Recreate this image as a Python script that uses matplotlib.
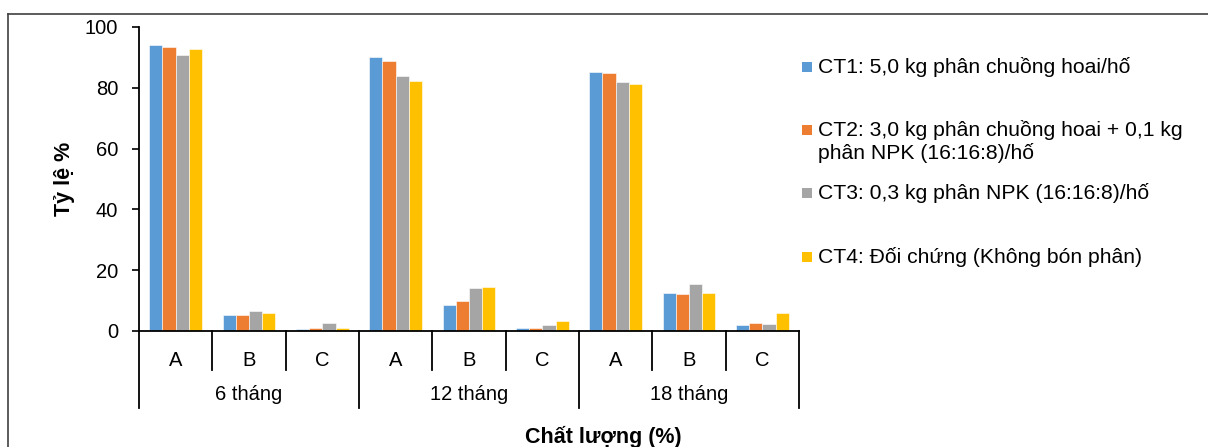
import matplotlib
matplotlib.use("Agg")
import matplotlib.pyplot as plt
from matplotlib.lines import Line2D
from matplotlib.patches import Rectangle
import matplotlib.transforms as mtransforms
import numpy as np

plt.rcParams['font.family'] = ['Liberation Sans', 'DejaVu Sans']

# ---------------- data ----------------
periods = ["6 tháng", "12 tháng", "18 tháng"]
grades = ["A", "B", "C"]
series_names = [
    "CT1: 5,0 kg phân chuồng hoai/hố",
    "CT2: 3,0 kg phân chuồng hoai + 0,1 kg\nphân NPK (16:16:8)/hố",
    "CT3: 0,3 kg phân NPK (16:16:8)/hố",
    "CT4: Đối chứng (Không bón phân)",
]
ct1 = [94.1, 5.3, 0.6, 90.0, 8.6, 1.1, 85.3, 12.5, 2.0]
ct2 = [93.4, 5.3, 1.1, 88.9, 9.9, 1.1, 84.8, 12.2, 2.7]
ct3 = [90.9, 6.6, 2.6, 83.8, 14.3, 2.0, 82.0, 15.5, 2.4]
ct4 = [92.7, 5.9, 1.1, 82.1, 14.6, 3.3, 81.4, 12.5, 5.9]
y_ticks = [0, 20, 40, 60, 80, 100]
y_label = "Tỷ lệ %"
x_label = "Chất lượng (%)"

colors = ["#5B9BD5", "#ED7D31", "#A5A5A5", "#FFC000"]

W, H = 1208, 447
fig = plt.figure(figsize=(W / 100, H / 100), dpi=100)
ax = fig.add_axes([139 / W, 1 - 331 / H, (799 - 139) / W, (331 - 27) / H])

all_series = [ct1, ct2, ct3, ct4]
n_cat = len(periods) * len(grades)
x = np.arange(n_cat)
bw = 0.18
for i, vals in enumerate(all_series):
    ax.bar(x + (i - 1.5) * bw, vals, width=bw, color=colors[i],
           edgecolor="white", linewidth=0.4, zorder=2)

ax.set_xlim(-0.5, n_cat - 0.5)
ax.set_ylim(0, 100)
ax.set_yticks(y_ticks)
ax.tick_params(axis="y", direction="out", length=5, width=1.2, pad=10,
               labelsize=14.5)
ax.set_xticks([])
for s in ["top", "right"]:
    ax.spines[s].set_visible(False)
ax.spines["left"].set_linewidth(1.3)
ax.spines["bottom"].set_linewidth(1.3)
ax.spines["bottom"].set_zorder(3)

ax.set_ylabel(y_label, fontsize=15.5, fontweight="bold")
ax.yaxis.set_label_coords(-0.097, 0.5)

# multi-level category axis
trans = mtransforms.blended_transform_factory(ax.transData, ax.transAxes)
px = 1 / (331 - 27)
inner_bottom = -(370 - 331) * px
outer_bottom = -(408 - 331) * px
lab_inner = -(360 - 331) * px
lab_outer = -(395 - 331) * px
for k in range(n_cat):
    ax.text(k, lab_inner, grades[k % len(grades)], transform=trans,
            ha="center", va="center", fontsize=14.5)
for b in range(1, n_cat):
    bottom = outer_bottom if b % len(grades) == 0 else inner_bottom
    ax.add_line(Line2D([b - 0.5, b - 0.5], [0, bottom], transform=trans,
                       color="black", linewidth=1.3, clip_on=False))
for edge in [-0.5, n_cat - 0.5]:
    ax.add_line(Line2D([edge, edge], [0, outer_bottom], transform=trans,
                       color="black", linewidth=1.3, clip_on=False))
for g, name in enumerate(periods):
    ax.text(g * len(grades) + 1, lab_outer, name, transform=trans,
            ha="center", va="center", fontsize=14.5)

fig.text(603 / W, 1 - 437 / H, x_label, ha="center", va="center",
         fontsize=15.5, fontweight="bold")

# legend (manual)
leg_y = [67, 130, 193, 257]
for i, name in enumerate(series_names):
    yc = leg_y[i]
    fig.patches.append(Rectangle((802 / W, 1 - (yc + 5) / H), 10 / W, 10 / H,
                                 transform=fig.transFigure,
                                 facecolor=colors[i], edgecolor="none"))
    lines = name.split("\n")
    for j, ln in enumerate(lines):
        fig.text(818 / W, 1 - (yc + 23 * j) / H, ln, ha="left", va="center",
                 fontsize=15.2)

# outer chart frame
fig.add_artist(Line2D([8 / W, 1.0], [1 - 14 / H, 1 - 14 / H],
                      transform=fig.transFigure, color="#404040", linewidth=1.2))
fig.add_artist(Line2D([8 / W, 8 / W], [1 - 14 / H, 0.0],
                      transform=fig.transFigure, color="#404040", linewidth=1.2))

fig.savefig("out.png", dpi=100)
